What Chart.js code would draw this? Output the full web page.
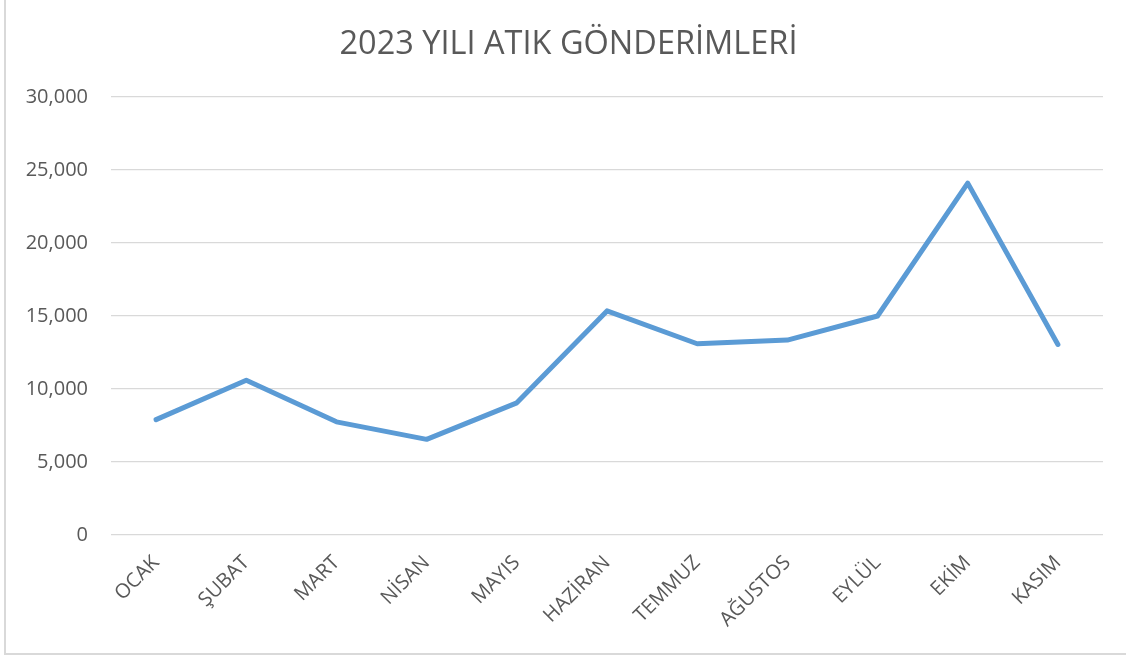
<!DOCTYPE html>
<html>
<head>
<meta charset="utf-8">
<script src="https://cdn.jsdelivr.net/npm/chart.js@4.4.0/dist/chart.umd.min.js"></script>
<style>
  html, body { margin: 0; padding: 0; background: #ffffff; overflow: hidden; }
  #wrap { position: relative; width: 1126px; height: 656px; }
  #frame { position: absolute; left: 4px; top: -5px; width: 1200px; height: 658px;
           border-left: 2px solid #d9d9d9; border-bottom: 2px solid #d9d9d9; pointer-events: none; }
  canvas { position: absolute; left: 0; top: 0; }
</style>
</head>
<body>
<div id="wrap">
  <canvas id="c" width="1126" height="656"></canvas>
  <div id="frame"></div>
</div>
<script>
const chartTitle = "2023 YILI ATIK GÖNDERİMLERİ";
const months = ["OCAK", "ŞUBAT", "MART", "NİSAN", "MAYIS", "HAZİRAN", "TEMMUZ", "AĞUSTOS", "EYLÜL", "EKİM", "KASIM"];
const shipments = [7900, 10600, 7750, 6550, 9050, 15350, 13100, 13350, 15000, 24100, 13050];
const yMin = 0;
const yMax = 30000;
const yStep = 5000;

const FONT = "'Open Sans', 'Liberation Sans', sans-serif";
const GREY = "#595959";

// Shift the title box so it is centred on the whole chart frame
const titleShift = {
  id: "titleShift",
  afterLayout(chart) {
    const tb = chart.titleBlock;
    if (tb) { tb.left += 11; tb.right += 11; }
  }
};

new Chart(document.getElementById("c"), {
  type: "line",
  data: {
    labels: months,
    datasets: [{
      data: shipments,
      borderColor: "#5B9BD5",
      backgroundColor: "#5B9BD5",
      borderWidth: 5,
      borderCapStyle: "round",
      borderJoinStyle: "round",
      pointRadius: 0,
      pointHoverRadius: 0,
      tension: 0,
      fill: false
    }]
  },
  plugins: [titleShift],
  options: {
    responsive: false,
    animation: false,
    layout: { padding: { left: 12, right: 23, top: 0, bottom: 0 } },
    plugins: {
      legend: { display: false },
      tooltip: { enabled: false },
      title: {
        display: true,
        text: chartTitle,
        color: GREY,
        font: { family: FONT, size: 32.5, weight: "normal", lineHeight: 1.2 },
        padding: { top: 25, bottom: 33 }
      }
    },
    scales: {
      x: {
        offset: true,
        grid: { display: false, drawTicks: false },
        border: { display: false },
        ticks: {
          color: GREY,
          font: { family: FONT, size: 20 },
          maxRotation: 45,
          minRotation: 45,
          padding: 16,
          autoSkip: false
        },
        afterFit: (s) => { s.height = 121; }
      },
      y: {
        min: yMin,
        max: yMax,
        grid: { color: "#d9d9d9", lineWidth: 1.3, drawTicks: false },
        border: { display: false },
        ticks: {
          stepSize: yStep,
          color: GREY,
          font: { family: FONT, size: 20 },
          padding: 23,
          callback: (v) => v.toLocaleString("en-US")
        },
        afterFit: (s) => { s.width = 99; }
      }
    }
  }
});
</script>
</body>
</html>
